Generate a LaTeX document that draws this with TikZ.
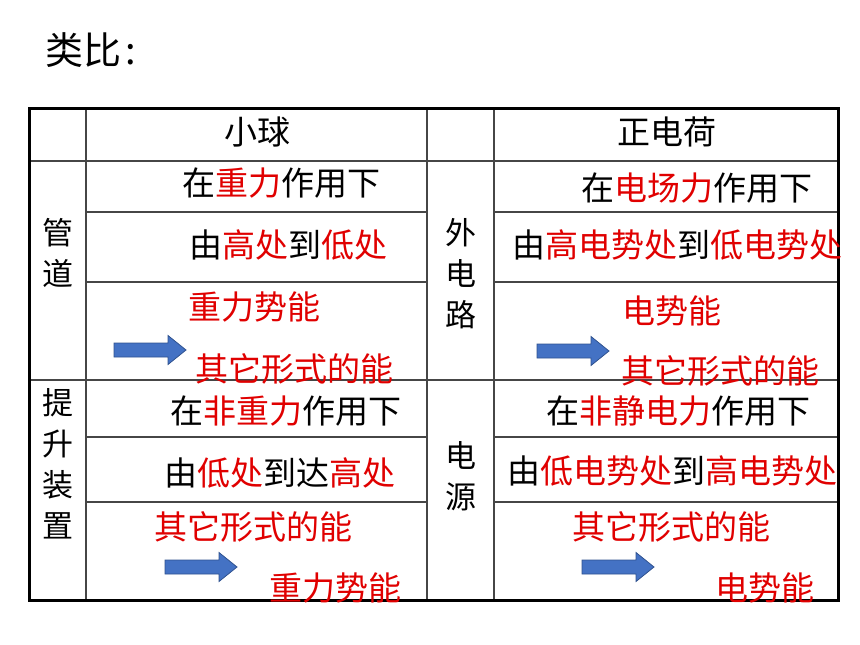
\documentclass[tikz,border=0pt]{standalone}
\usepackage{fontspec}
\newfontfamily\cjk{Noto Sans CJK SC}
\definecolor{mred}{RGB}{224,0,0}
\definecolor{arrfill}{RGB}{68,114,196}
\definecolor{arrline}{RGB}{47,82,143}
\definecolor{gridline}{RGB}{70,70,70}
\newcommand{\R}[1]{\textcolor{mred}{#1}}
\tikzset{
  cell/.style={font=\cjk\fontsize{33}{36}\selectfont, inner sep=0pt, anchor=west},
  redcell/.style={cell, text=mred},
  vcol/.style={font=\cjk\fontsize{31}{41}\selectfont, inner sep=0pt, align=center, anchor=north},
  inner/.style={draw=gridline, line width=1.3pt},
  outer/.style={draw=black, line width=3pt},
  blockarrow/.pic={\draw[fill=arrfill, draw=arrline, line width=0.8pt]
     (0,-7) -- (54,-7) -- (54,-14.5) -- (72,0) -- (54,14.5) -- (54,7) -- (0,7) -- cycle;}
}
\begin{document}
\begin{tikzpicture}[x=1pt,y=-1pt]
\useasboundingbox (0,0) rectangle (860,645);
% title
\node[font=\cjk\fontsize{38}{40}\selectfont, inner sep=0pt, anchor=west] (title) at (45,50) {类比\hspace{0.1em}:};
% grid
\coordinate (TL) at (29,108);
\coordinate (BR) at (838,600);
\draw[inner] (86,108) -- (86,600);
\draw[inner] (427,108) -- (427,600);
\draw[inner] (494,108) -- (494,600);
\draw[inner] (29,161) -- (838,161);
\draw[inner] (29,380) -- (838,380);
\foreach \yy in {212,282,437,502}{
  \draw[inner] (86,\yy) -- (427,\yy);
  \draw[inner] (494,\yy) -- (838,\yy);
}
\draw[outer] (TL) rectangle (BR);
% headers
\node[cell, anchor=center] (h1) at (257,132) {小球};
\node[cell, anchor=center] (h2) at (667,132) {正电荷};
% side labels
\node[vcol] (s1) at (58,218) {管\\道};
\node[vcol] (s2) at (58,388) {提\\升\\装\\置};
\node[vcol] (s3) at (461,218) {外\\电\\路};
\node[vcol] (s4) at (461,441) {电\\源};
% upper left
\node[cell] (a1) at (182,183) {在\R{重力}作用下};
\node[cell] (a2) at (189,245) {由\R{高处}到\R{低处}};
\node[redcell] (a3) at (188,307) {重力势能};
\node[redcell] (a4) at (195,369) {其它形式的能};
\pic at (114,350) {blockarrow};
% upper right
\node[cell] (b1) at (581,188) {在\R{电场力}作用下};
\node[cell] (b2) at (512,245) {由\R{高电势处}到\R{低电势处}};
\node[redcell] (b3) at (622,311) {电势能};
\node[redcell] (b4) at (621,371) {其它形式的能};
\pic at (537,351) {blockarrow};
% lower left
\node[cell] (c1) at (170,411) {在\R{非重力}作用下};
\node[cell] (c2) at (164,473) {由\R{低处}到达\R{高处}};
\node[redcell] (c3) at (154,527) {其它形式的能};
\node[redcell] (c4) at (269,588) {重力势能};
\pic at (165,567) {blockarrow};
% lower right
\node[cell] (d1) at (546,411) {在\R{非静电力}作用下};
\node[cell] (d2) at (507,471) {由\R{低电势处}到\R{高电势处}};
\node[redcell] (d3) at (572,527) {其它形式的能};
\node[redcell] (d4) at (715,588) {电势能};
\pic at (582,567) {blockarrow};
\end{tikzpicture}
\end{document}
